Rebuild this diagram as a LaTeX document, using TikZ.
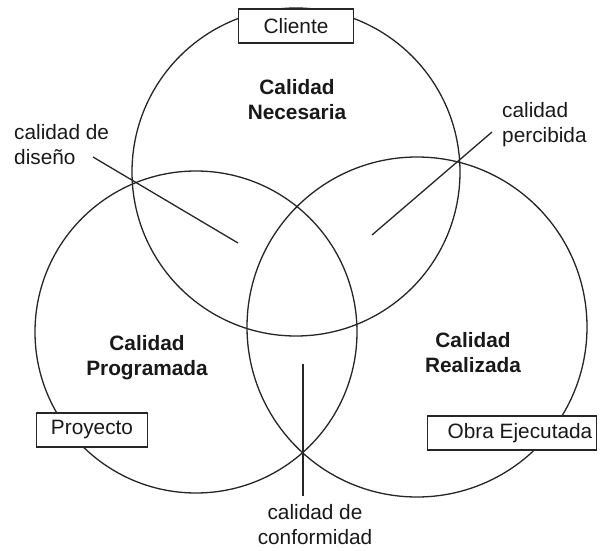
\documentclass[tikz,border=0pt]{standalone}
\usepackage{fontspec}
\setmainfont{Liberation Sans}
\begin{document}
\begin{tikzpicture}[x=1pt,y=-1pt,
  ring/.style={line width=1.3pt, draw=black!85},
  lead/.style={line width=1.3pt, draw=black!85},
  lbl/.style={inner sep=0pt, font=\fontsize{20.8}{25}\selectfont, text=black!90},
  bold/.style={lbl, font=\fontsize{20.8}{25}\selectfont\bfseries, align=center},
  tag/.style={draw=black!85, line width=1.3pt, fill=white, inner sep=0pt,
     minimum height=34pt, font=\fontsize{20.8}{25}\selectfont, text=black!90}]
\useasboundingbox (0,0) rectangle (600,551);
\fill[white] (0,0) rectangle (600,551);
% circles
\coordinate (ctop) at (296,172);
\coordinate (cleft) at (196,332);
\coordinate (cright) at (417,327);
\draw[ring] (ctop) circle[radius=164pt];
\draw[ring] (cleft) circle[radius=161pt];
\draw[ring] (cright) circle[radius=170pt];
% boxed labels
\node[tag, minimum width=115pt] (cliente) at (296,26) {Cliente};
\node[tag, minimum width=111pt] (proyecto) at (92,430) {Proyecto};
\node[tag, minimum width=169pt] (obra) at (512,433) {\hspace*{16pt}Obra Ejecutada};
% region titles
\node[bold] (nec) at (297,100) {Calidad\\Necesaria};
\node[bold] (prog) at (147,358) {Calidad\\Programada};
\node[bold] (real) at (473,353) {Calidad\\Realizada};
% side labels
\node[lbl, anchor=west, align=left] (dis) at (14,145) {calidad de\\diseño};
\node[lbl, anchor=west, align=left] (perc) at (502,125) {calidad\\percibida};
\node[lbl, align=center] (conf) at (315,525) {calidad de\\conformidad};
% leader lines
\coordinate (d1) at (93,157);
\coordinate (d2) at (238,243);
\coordinate (p1) at (492,132);
\coordinate (p2) at (372,235);
\coordinate (c1) at (303,364);
\coordinate (c2) at (303,496);
\draw[lead] (d1) -- (d2);
\draw[lead] (p1) -- (p2);
\draw[lead] (c1) -- (c2);
\end{tikzpicture}
\end{document}
